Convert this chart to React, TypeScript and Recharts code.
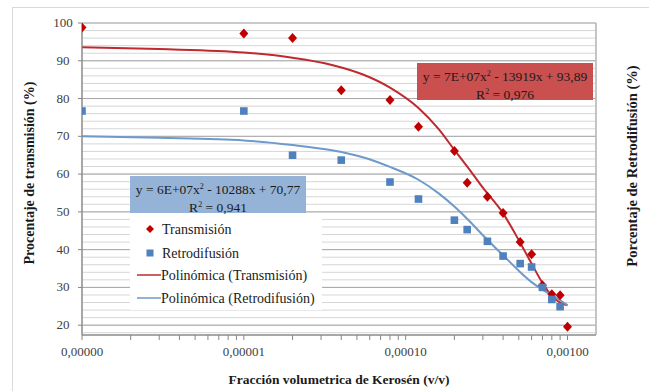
import {
  CartesianGrid,
  ComposedChart,
  Legend,
  Line,
  Scatter,
  XAxis,
  YAxis,
} from "recharts";

// measured points
const transX = [1e-6, 1e-5, 2e-5, 4e-5, 8e-5, 1.2e-4, 2e-4, 2.4e-4, 3.2e-4, 4e-4, 5.1e-4, 6e-4, 7e-4, 8e-4, 9e-4, 1e-3];
const transY = [98.8, 97.2, 96.0, 82.2, 79.6, 72.5, 66.1, 57.7, 54.0, 49.7, 42.0, 38.8, 30.6, 28.2, 27.9, 19.6];
const retroX = [1e-6, 1e-5, 2e-5, 4e-5, 8e-5, 1.2e-4, 2e-4, 2.4e-4, 3.2e-4, 4e-4, 5.1e-4, 6e-4, 7e-4, 8e-4, 9e-4];
const retroY = [76.7, 76.7, 65.0, 63.7, 57.9, 53.4, 47.8, 45.3, 42.2, 38.3, 36.3, 35.4, 30.0, 26.8, 24.9];

// trend lines
const fitX = [1e-6, 3e-6, 1e-5, 2e-5, 3.5e-5, 5.5e-5, 8e-5, 1.2e-4, 1.6e-4, 2e-4, 2.5e-4, 3e-4, 4e-4, 5e-4, 6e-4, 7e-4, 8e-4, 9e-4, 1e-3];
const fitTrans = [93.6, 93.1, 92.2, 90.8, 88.9, 86.3, 82.9, 77.5, 71.9, 66.4, 61.0, 56.4, 49.6, 42.5, 36.3, 31.2, 27.7, 26.0, 25.3];
const fitRetro = [70.0, 69.6, 68.9, 67.7, 66.3, 64.4, 61.9, 58.5, 54.9, 51.4, 47.4, 43.8, 38.5, 34.4, 31.4, 29.4, 27.9, 26.6, 25.3];

// axes
const decades = [1e-6, 1e-5, 1e-4, 1e-3];
const decadeLabels = ["0,00000", "0,00001", "0,00010", "0,00100"];
const multipliers = [1, 2, 3, 4, 5, 6, 7, 8, 9];
const yTicks = [20, 30, 40, 50, 60, 70, 80, 90, 100];
const yMinor = [18, 20, 22, 24, 26, 28, 30, 32, 34, 36, 38, 40, 42, 44, 46, 48, 50, 52, 54, 56, 58, 60, 62, 64, 66, 68, 70, 72, 74, 76, 78, 80, 82, 84, 86, 88, 90, 92, 94, 96, 98, 100];

const xTicks = [
  ...decades.slice(0, 3).flatMap((d) => multipliers.map((m) => m * d)),
  decades[3],
];

const transPts = transX.map((x, i) => ({ x, y: transY[i] }));
const retroPts = retroX.map((x, i) => ({ x, y: retroY[i] }));
const transFit = fitX.map((x, i) => ({ x, y: fitTrans[i] }));
const retroFit = fitX.map((x, i) => ({ x, y: fitRetro[i] }));

const X_DOMAIN = [1e-6, 1.5e-3];
const Y_DOMAIN = [17.4, 100];

const SERIF = "Liberation Serif, Times New Roman, DejaVu Serif, serif";
const RED = "#C00000";
const BLUE = "#4F81BD";
const RED_LINE = "#BE2A2E";
const BLUE_LINE = "#6E9ACB";

function xLabel(v: number) {
  const i = decades.findIndex((d) => Math.abs(v - d) / d < 1e-6);
  return i >= 0 ? decadeLabels[i] : "";
}

const Diamond = (p: any) => (
  <path
    d={`M${p.cx},${p.cy - 5} L${p.cx + 4.5},${p.cy} L${p.cx},${p.cy + 5} L${p.cx - 4.5},${p.cy} Z`}
    fill={RED}
  />
);
const Square = (p: any) => (
  <rect x={p.cx - 3.8} y={p.cy - 3.8} width={7.6} height={7.6} fill={BLUE} />
);

const YTick = (p: any) => (
  <text x={63} y={p.y} dy={4} textAnchor="middle" style={{ fontFamily: SERIF }} fontSize={13} fill="#404040">
    {p.payload.value}
  </text>
);

const XTick = (p: any) => (
  <text x={p.x} y={p.y} dy={9} textAnchor="middle" style={{ fontFamily: SERIF }} fontSize={13} fill="#404040">
    {xLabel(p.payload.value)}
  </text>
);

const XTitle = () => (
  <text x={339} y={384} textAnchor="middle" style={{ fontFamily: SERIF }} fontSize={13.5} fontWeight="bold" fill="#1a1a1a">
    Fracción volumetrica de Kerosén (v/v)
  </text>
);
const LeftTitle = () => (
  <text x={34} y={173} transform="rotate(-90 34 173)" textAnchor="middle" style={{ fontFamily: SERIF }} fontSize={14} fontWeight="bold" fill="#1a1a1a">
    Procentaje de transmisión (%)
  </text>
);
const RightTitle = () => (
  <text x={637} y={166} transform="rotate(-90 637 166)" textAnchor="middle" style={{ fontFamily: SERIF }} fontSize={14.5} fontWeight="bold" fill="#1a1a1a">
    Porcentaje de Retrodifusión (%)
  </text>
);

const LegendBox = () => (
  <svg width={192} height={97} style={{ display: "block" }}>
    <rect x={0} y={0} width={192} height={97} fill="#fff" />
    <path d="M20,12 L24,16 L20,20 L16,16 Z" fill={RED} />
    <rect x={16.5} y={36.5} width={7} height={7} fill={BLUE} />
    <line x1={7} y1={62} x2={31} y2={62} stroke={RED_LINE} strokeWidth={1.5} />
    <line x1={7} y1={85} x2={31} y2={85} stroke={BLUE_LINE} strokeWidth={1.5} />
    <g style={{ fontFamily: SERIF }} fontSize={14} fill="#1a1a1a">
      <text x={32} y={21}>Transmisión</text>
      <text x={32} y={44.5}>Retrodifusión</text>
      <text x={31} y={67}>Polinómica (Transmisión)</text>
      <text x={31} y={90}>Polinómica (Retrodifusión)</text>
    </g>
  </svg>
);

function EqBox({ left, top, width, height, fill, eq, r2 }: any) {
  return (
    <div
      style={{
        position: "absolute",
        left,
        top,
        width,
        height,
        background: fill,
        fontFamily: SERIF,
        fontSize: 13.5,
        color: "#1a1a1a",
        textAlign: "center",
        lineHeight: "15px",
        paddingTop: 3,
        boxSizing: "border-box",
        whiteSpace: "nowrap",
      }}
    >
      <div>
        {eq.pre}
        <sup style={{ fontSize: 8, verticalAlign: "5px" }}>2</sup>
        {eq.post}
      </div>
      <div>
        R<sup style={{ fontSize: 8, verticalAlign: "5px" }}>2</sup> = {r2}
      </div>
    </div>
  );
}

export default function App() {
  return (
    <div style={{ position: "absolute", left: 0, top: 0, width: 649, height: 391, background: "#fff", overflow: "hidden" }}>
      <div style={{ position: "absolute", left: 12, top: 7, width: 700, height: 500, borderLeft: "1px solid #D9D9D9", borderTop: "1px solid #D9D9D9" }} />
      <ComposedChart width={649} height={391} margin={{ top: 23, right: 0, bottom: 0, left: 0 }}>
        {/* grid axes: minor and major */}
        <XAxis xAxisId="minor" type="number" scale="log" domain={X_DOMAIN} allowDataOverflow ticks={xTicks} interval={0} hide />
        <YAxis yAxisId="minor" type="number" domain={Y_DOMAIN} allowDataOverflow ticks={yMinor} interval={0} hide />
        <XAxis xAxisId="major" type="number" scale="log" domain={X_DOMAIN} allowDataOverflow ticks={decades} interval={0} hide />
        <CartesianGrid xAxisId="minor" yAxisId="minor" stroke="#D6D6D6" />
        <CartesianGrid xAxisId="major" stroke="#A8A8A8" />
        <XAxis
          type="number"
          dataKey="x"
          scale="log"
          domain={X_DOMAIN}
          allowDataOverflow
          ticks={xTicks}
          interval={0}
          height={56}
          tickSize={5}
          tickMargin={7}
          stroke="#868686"
          tick={<XTick />}
          label={<XTitle />}
        />
        <YAxis
          type="number"
          domain={Y_DOMAIN}
          allowDataOverflow
          ticks={yTicks}
          interval={0}
          width={82}
          tickSize={4}
          stroke="#868686"
          tick={<YTick />}
          label={<LeftTitle />}
        />
        <YAxis
          yAxisId="right"
          orientation="right"
          type="number"
          domain={Y_DOMAIN}
          width={53}
          tick={false}
          tickLine={false}
          stroke="#BFBFBF"
          label={<RightTitle />}
        />
        <Line data={transFit} dataKey="y" type="monotone" stroke={RED_LINE} strokeWidth={2} dot={false} isAnimationActive={false} legendType="none" />
        <Line data={retroFit} dataKey="y" type="monotone" stroke={BLUE_LINE} strokeWidth={2} dot={false} isAnimationActive={false} legendType="none" />
        <Scatter data={transPts} dataKey="y" shape={<Diamond />} isAnimationActive={false} />
        <Scatter data={retroPts} dataKey="y" shape={<Square />} isAnimationActive={false} />
        <Legend
          layout="vertical"
          align="center"
          verticalAlign="middle"
          content={() => <LegendBox />}
          wrapperStyle={{ left: 130, top: 213, width: 192, height: 97 }}
        />
      </ComposedChart>
      <EqBox
        left={417}
        top={63}
        width={176}
        height={37}
        fill="#C9504F"
        eq={{ pre: "y = 7E+07x", post: " - 13919x + 93,89" }}
        r2="0,976"
      />
      <EqBox
        left={130}
        top={176}
        width={176}
        height={37}
        fill="#95B3D7"
        eq={{ pre: "y = 6E+07x", post: " - 10288x + 70,77" }}
        r2="0,941"
      />
    </div>
  );
}
